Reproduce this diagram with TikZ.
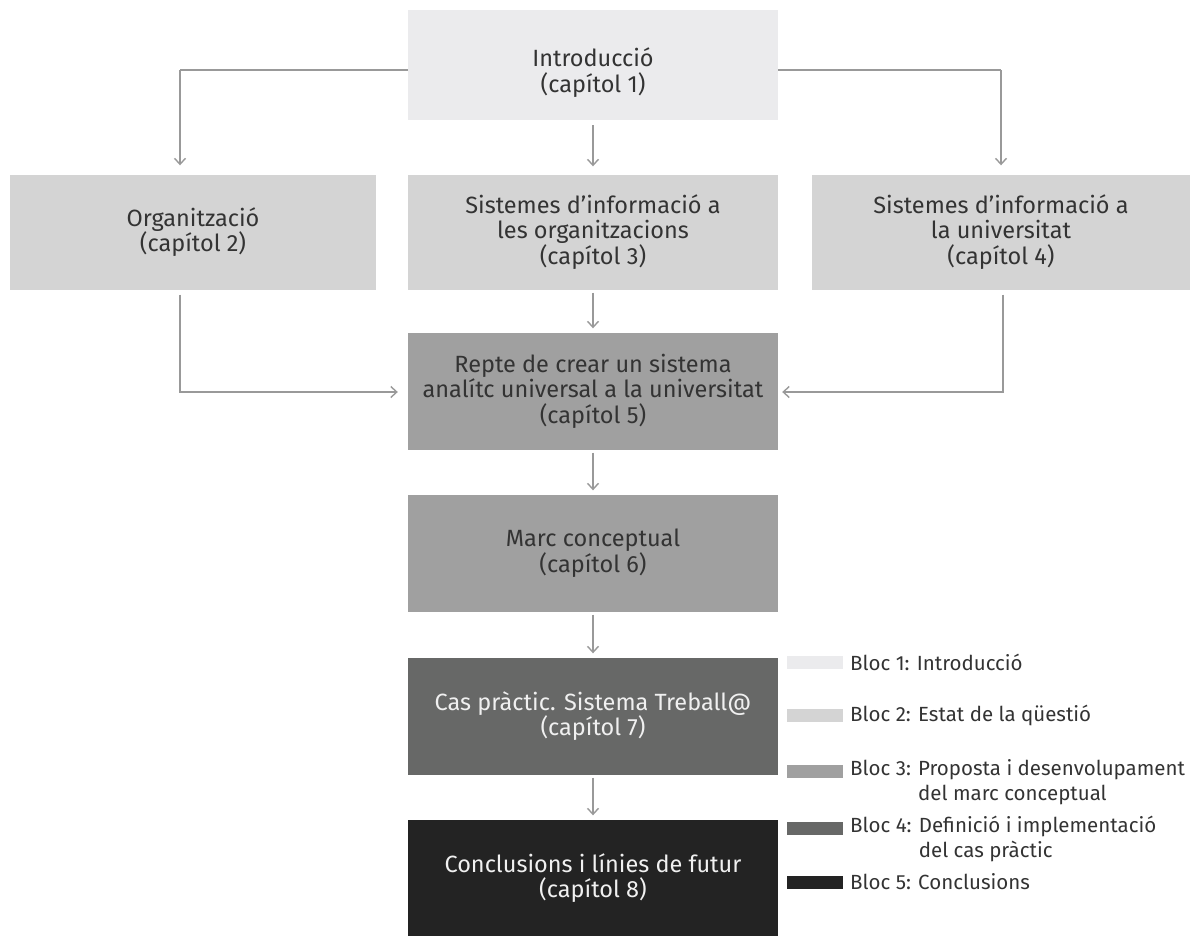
\documentclass[tikz,border=0pt]{standalone}
\usepackage{fontspec}
\setmainfont{Fira Sans}
\usetikzlibrary{arrows.meta}
\definecolor{bloci}{HTML}{EBEBED}
\definecolor{blocii}{HTML}{D4D4D4}
\definecolor{blociii}{HTML}{A0A0A0}
\definecolor{blociv}{HTML}{676867}
\definecolor{blocv}{HTML}{232323}
\definecolor{ink}{HTML}{333333}
\definecolor{paleink}{HTML}{F0F0F0}
\definecolor{wire}{HTML}{999999}
\begin{document}
\begin{tikzpicture}[x=1pt,y=-1pt,
  box/.style={rectangle,draw=none,align=center,inner sep=0pt,
    font=\fontsize{23.5}{25.5}\selectfont,text=ink},
  darkbox/.style={box,text=paleink},
  conn/.style={draw=wire,line width=1.4pt,
    -{Straight Barb[length=6pt,width=11pt,line width=1.4pt]}},
  wire/.style={draw=wire,line width=1.4pt},
  swatch/.style={rectangle,draw=none,minimum width=56pt,minimum height=13pt,inner sep=0pt},
  legend/.style={anchor=west,align=left,inner sep=0pt,
    font=\fontsize{20.5}{25}\selectfont,text=ink}]
\useasboundingbox (0,0) rectangle (1199,935);

% chapter boxes
\node[box,fill=bloci,minimum width=370pt,minimum height=110pt] (intro) at (593,65)
  {\rule{0pt}{34pt}Introducció\\(capítol 1)};
\node[box,fill=blocii,minimum width=366pt,minimum height=115pt] (org) at (193,232)
  {Organització\\(capítol 2)};
\node[box,fill=blocii,minimum width=370pt,minimum height=115pt] (sio) at (593,232)
  {Sistemes d’informació a\\les organitzacions\\(capítol 3)};
\node[box,fill=blocii,minimum width=378pt,minimum height=115pt] (siu) at (1001,232)
  {Sistemes d’informació a\\la universitat\\(capítol 4)};
\node[box,fill=blociii,minimum width=370pt,minimum height=117pt] (repte) at (593,391)
  {Repte de crear un sistema\\analítc universal a la universitat\\(capítol 5)};
\node[box,fill=blociii,minimum width=370pt,minimum height=117pt] (marc) at (593,553)
  {Marc conceptual\\(capítol 6)};
\node[darkbox,fill=blociv,minimum width=370pt,minimum height=117pt] (cas) at (593,716)
  {Cas pràctic. Sistema Treball@\\(capítol 7)};
\node[darkbox,fill=blocv,minimum width=370pt,minimum height=117pt] (concl) at (593,878)
  {Conclusions i línies de futur\\(capítol 8)};

% bend points of the side connectors
\coordinate (tl) at (180,70);
\coordinate (tr) at (1001,70);
\coordinate (bl) at (180,392);
\coordinate (br) at (1003,392);

% from the introduction to the second row
\draw[wire] (intro.west |- tl) -- (tl);
\draw[conn] (tl) -- ([yshift=9pt]org.north -| tl);
\draw[conn] ([yshift=-5pt]intro.south) -- ([yshift=8pt]sio.north);
\draw[wire] (intro.east |- tr) -- (tr);
\draw[conn] (tr) -- ([yshift=9pt]siu.north -| tr);

% from the second row into chapter 5
\draw[conn] ([yshift=-5pt]org.south -| bl) -- (bl) -- ([xshift=-10pt]repte.west |- bl);
\draw[conn] ([yshift=-3pt]sio.south) -- ([yshift=4pt]repte.north);
\draw[conn] ([yshift=-5pt]siu.south -| br) -- (br) -- ([xshift=4pt]repte.east |- br);

% main sequence
\draw[conn] ([yshift=-3pt]repte.south) -- ([yshift=4pt]marc.north);
\draw[conn] ([yshift=-3pt]marc.south) -- ([yshift=4pt]cas.north);
\draw[conn] ([yshift=-3pt]cas.south) -- ([yshift=4pt]concl.north);

% legend
\node[swatch,fill=bloci] (s1) at (815,662) {};
\node[swatch,fill=blocii] (s2) at (815,715) {};
\node[swatch,fill=blociii] (s3) at (815,771) {};
\node[swatch,fill=blociv] (s4) at (815,828) {};
\node[swatch,fill=blocv] (s5) at (815,882) {};
\node[legend] (l1) at (850,662) {Bloc 1: Introducció};
\node[legend] (l2) at (850,715) {Bloc 2: Estat de la qüestió};
\node[legend,anchor=north west] (l3) at (850,759)
  {Bloc 3: Proposta i desenvolupament\\\phantom{Bloc 3: }del marc conceptual};
\node[legend,anchor=north west] (l4) at (850,816)
  {Bloc 4: Definició i implementació\\\phantom{Bloc 4: }del cas pràctic};
\node[legend] (l5) at (850,882) {Bloc 5: Conclusions};
\end{tikzpicture}
\end{document}
